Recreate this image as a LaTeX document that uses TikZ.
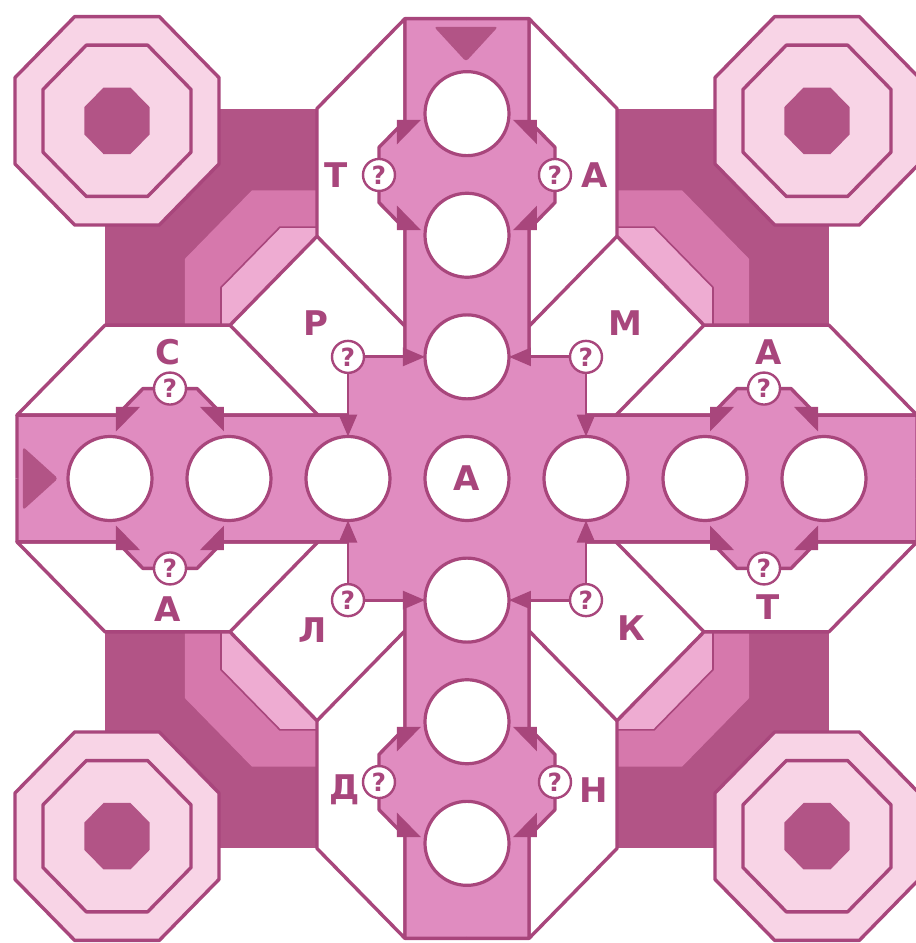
\documentclass[tikz,border=0pt]{standalone}
\usepackage{fontspec}
\setmainfont{DejaVu Sans}
\usetikzlibrary{arrows.meta}
\definecolor{barpink}{RGB}{224,140,192}
\definecolor{darkm}{RGB}{178,84,134}
\definecolor{midband}{RGB}{214,120,172}
\definecolor{lightband}{RGB}{238,172,210}
\definecolor{octfill}{RGB}{248,212,230}
\definecolor{linec}{RGB}{168,70,124}
\begin{document}
\begin{tikzpicture}[x=1pt,y=-1.022pt,line join=round,
  ol/.style={draw=linec,line width=3.4pt},
  hole/.style={circle,draw=linec,line width=3.2pt,fill=white,minimum size=84pt,inner sep=0pt,outer sep=0pt},
  qm/.style={circle,draw=linec,line width=2.4pt,fill=white,minimum size=32pt,inner sep=0pt,outer sep=0pt,text=linec,font=\bfseries\fontsize{25}{25}\selectfont},
  lett/.style={text=linec,inner sep=0pt,font=\bfseries\fontsize{34}{34}\selectfont},
  arr/.style={draw=linec,line width=2.8pt,-{Triangle[length=22pt,width=18pt]}}]
\useasboundingbox (-467,-468.2) rectangle (449,454.5);
% dark corner squares with bands
\foreach \sx in {-1,1}{\foreach \sy in {-1,1}{
 \begin{scope}[xscale=\sx,yscale=\sy]
  \fill[darkm] (-362,-362) rectangle (-150,-150);
  \fill[midband] (-282,-150) -- (-282,-215) -- (-215,-282) -- (-150,-282) -- (-150,-150) -- cycle;
  \filldraw[fill=lightband,draw=linec,line width=1.6pt] (-246,-150) -- (-246,-187) -- (-187,-246) -- (-150,-246) -- (-150,-150) -- cycle;
 \end{scope}}}
% octagons
\foreach \sx in {-1,1}{\foreach \sy in {-1,1}{
 \begin{scope}[shift={(\sx*350,\sy*350)}]
  \filldraw[fill=octfill,ol] (22.5:110.4) \foreach \k in {1,...,7}{ -- (22.5+45*\k:110.4)} -- cycle;
  \draw[ol] (22.5:80.1) \foreach \k in {1,...,7}{ -- (22.5+45*\k:80.1)} -- cycle;
  \fill[darkm] (22.5:35.2) \foreach \k in {1,...,7}{ -- (22.5+45*\k:35.2)} -- cycle;
 \end{scope}}}
% white regions
\foreach \sx in {-1,1}{\foreach \sy in {-1,1}{
 \begin{scope}[xscale=\sx,yscale=\sy]
  \filldraw[fill=white,ol] (-450,-62) -- (-362,-150) -- (-237,-150) -- (-150,-237) -- (-150,-362) -- (-62,-450) -- (-62,-62) -- cycle;
  \draw[ol] (-237,-150) -- (-149,-62);
  \draw[ol] (-150,-237) -- (-62,-149);
 \end{scope}}}
% the cross
\fill[barpink] (-450,-62) rectangle (450,62);
\fill[barpink] (-62,-450) rectangle (62,450);
\fill[barpink] (-119,-119) rectangle (119,119);
\foreach \sx in {-1,1}{\foreach \sy in {-1,1}{
 \begin{scope}[xscale=\sx,yscale=\sy]
  \fill[barpink] (-350,-62) -- (-324,-88) -- (-270,-88) -- (-244,-62) -- cycle;
  \fill[barpink] (-62,-350) -- (-88,-324) -- (-88,-270) -- (-62,-244) -- cycle;
  \draw[ol] (-450,0) -- (-450,-62) -- (-350,-62) -- (-324,-88) -- (-270,-88) -- (-244,-62) -- (-119,-62);
  \draw[ol] (-62,-119) -- (-62,-244) -- (-88,-270) -- (-88,-324) -- (-62,-350) -- (-62,-450) -- (0,-450);
 \end{scope}}}
% entry arrows
\fill[darkm,rounded corners=3pt] (-444,-31) -- (-409,0) -- (-444,31) -- cycle;
\fill[darkm,rounded corners=3pt] (-33,-442) -- (31,-442) -- (-1,-408) -- cycle;
% circles
\foreach \k [evaluate=\k as \n using int(\k+4)] in {-3,...,3}{
  \node[hole] (h\n) at (\k*119,0) {};}
\foreach \k [evaluate=\k as \n using int(\k+4)] in {-3,-2,-1,1,2,3}{
  \node[hole] (v\n) at (0,\k*119) {};}
% bump arrowheads
\foreach \sx in {-1,1}{\foreach \sy in {-1,1}{
 \begin{scope}[xscale=\sx,yscale=\sy]
  \fill[linec] (-351,-70) -- (-327,-70) -- (-351,-46) -- cycle;
  \fill[linec] (-243,-70) -- (-267,-70) -- (-243,-46) -- cycle;
  \fill[linec] (-70,-351) -- (-70,-327) -- (-46,-351) -- cycle;
  \fill[linec] (-70,-243) -- (-70,-267) -- (-46,-243) -- cycle;
 \end{scope}}}
% central question marks and arrows
\node[qm] (qa) at (-119,-119) {?};
\node[qm] (qb) at (119,-119) {?};
\node[qm] (qc) at (-119,119) {?};
\node[qm] (qd) at (119,119) {?};
\draw[arr] (qa) -- (v3); \draw[arr] (qa) -- (h3);
\draw[arr] (qb) -- (v3); \draw[arr] (qb) -- (h5);
\draw[arr] (qc) -- (v5); \draw[arr] (qc) -- (h3);
\draw[arr] (qd) -- (v5); \draw[arr] (qd) -- (h5);
% bump question marks
\node[qm] (b1) at (-297,-88) {?};
\node[qm] (b2) at (297,-88) {?};
\node[qm] (b3) at (-297,88) {?};
\node[qm] (b4) at (297,88) {?};
\node[qm] (b5) at (-88,-297) {?};
\node[qm] (b6) at (88,-297) {?};
\node[qm] (b7) at (-88,297) {?};
\node[qm] (b8) at (88,297) {?};
% letters
\node[lett] (tT) at (-131,-297) {Т};
\node[lett] (tA1) at (128,-297) {А};
\node[lett] (tR) at (-151,-152) {Р};
\node[lett] (tM) at (158,-152) {М};
\node[lett] (tS) at (-299,-124) {С};
\node[lett] (tA2) at (302,-124) {А};
\node[lett] (tA0) at (h4) {А};
\node[lett] (tA3) at (-299,128) {А};
\node[lett] (tT2) at (301,126) {Т};
\node[lett] (tL) at (-154,148) {Л};
\node[lett] (tK) at (164,146) {К};
\node[lett] (tD) at (-122,305) {Д};
\node[lett] (tN) at (127,305) {Н};
\end{tikzpicture}
\end{document}
